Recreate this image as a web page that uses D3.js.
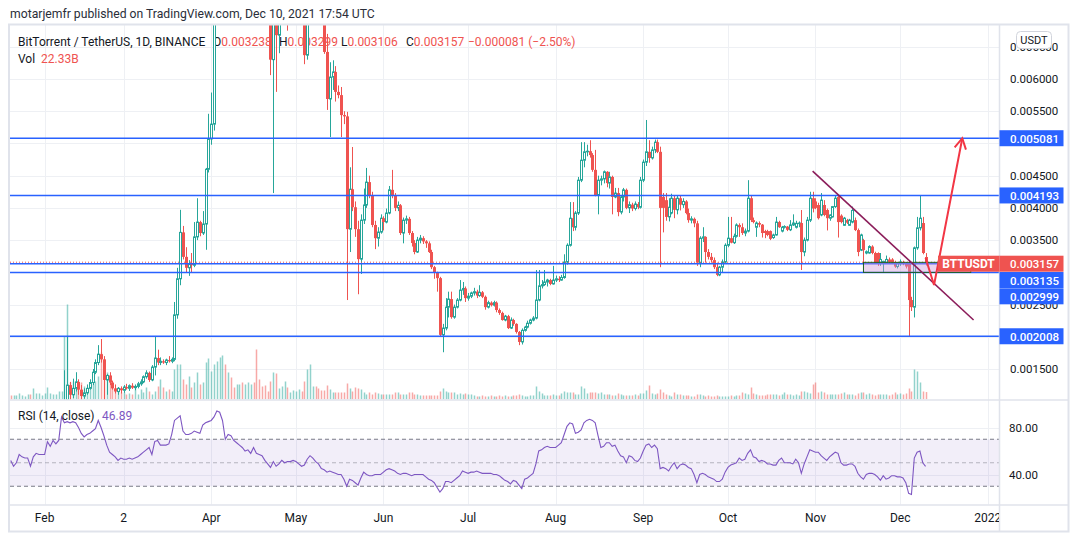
<!DOCTYPE html>
<html><head><meta charset="utf-8">
<script src="https://cdn.jsdelivr.net/npm/d3@7"></script>
<style>
body{margin:0;background:#fff}
svg{display:block}
text{font-family:Roboto,"Noto Sans",sans-serif}
</style></head>
<body><svg id="c" width="1079" height="539"></svg>
<script>
// ---------------- DATA ----------------
const startDate = "2021-01-20"; // first daily candle, one per day
// prices in units of 1e-6 USDT
const opens = [
330,320,335,340,350,360,370,390,380,390,
410,430,460,480,500,540,580,620,680,760,
1000,1250,1100,1200,1300,1180,1080,1130,1200,1290,
1450,1600,1730,1650,1330,1400,1290,1200,1150,1200,
1170,1220,1200,1240,1210,1230,1270,1300,1380,1440,
1330,1530,1670,1600,1620,1600,1640,1620,1650,2340,
2900,3620,3240,3070,3130,3110,3550,3780,3610,3750,
4600,5070,5300,7200,9000,10800,12000,10500,10900,10400,
9800,10100,10200,9900,10100,10300,10600,9400,9100,8600,
8200,7800,7400,6300,7000,6680,6900,7400,7800,7200,
7600,8200,8300,8500,7500,6370,7500,8000,8400,7800,
7600,7000,6420,5690,6030,6110,5800,5750,5440,5420,
3670,4290,4010,3670,3205,3810,4045,4400,4200,3735,
3530,3625,3840,3780,3920,4280,4200,4000,4040,3610,
3810,3830,3610,3455,3315,3500,3530,3480,3450,3315,
3080,2990,2910,2030,2135,2460,2585,2305,2460,2570,
2725,2750,2600,2630,2680,2700,2640,2690,2620,2460,
2530,2490,2530,2415,2370,2260,2320,2135,2260,2200,
2075,1920,2100,2150,2210,2260,2290,2570,2790,2810,
2850,2880,2820,2880,2900,2880,2920,3160,3420,3840,
3700,3920,4430,4740,4870,4880,4820,4590,4200,4430,
4450,4560,4385,4480,4170,4230,3935,4170,4280,4000,
4050,3990,4060,4010,4430,4710,4870,4775,4900,5020,
4870,4170,4120,3860,3920,4150,3970,4150,4050,4100,
3920,3810,3830,3760,3150,3530,3550,3315,3240,3190,
3080,2960,3080,3160,3420,3530,3460,3560,3735,3700,
3610,3640,4150,3810,3700,3765,3740,3640,3640,3640,
3540,3580,3780,3640,3700,3710,3660,3735,3700,3760,
3765,3315,3500,3810,4150,4100,4045,3890,4045,3967,
3840,3860,4020,4170,3880,3730,3810,3730,3780,3810,
3656,3345,3500,3300,3300,3400,3300,3300,3150,3150,
3150,3200,3200,3160,3090,3150,3160,3140,3145,2570,
2460,3380,3690,3765,3238];
const highs = [
350,345,350,360,370,380,400,410,400,420,
440,470,490,520,560,600,650,700,800,1480,
2000,1300,1350,1450,1340,1250,1200,1260,1340,1500,
1650,1870,1965,1700,1420,1450,1320,1260,1220,1230,
1250,1270,1260,1280,1260,1300,1340,1400,1480,1460,
1560,2000,1800,1680,1650,1660,1700,1680,2540,3070,
3970,3720,3390,3190,3300,3780,4150,3800,3950,4620,
5460,5790,7500,9500,11500,13700,12500,11200,11500,10800,
10300,10600,10500,10400,10600,10900,10800,9800,9400,9000,
8600,8200,7600,7300,7200,7100,7600,8000,8200,7800,
8400,8600,8800,8900,7700,7800,8200,8700,8600,8100,
7900,7200,6700,6260,6290,6200,5900,5876,5500,5490,
4630,4945,4100,3800,3900,4300,4620,4500,4250,3800,
3700,3900,3870,3990,4340,4590,4230,4100,4060,3850,
3880,3860,3640,3500,3550,3580,3560,3500,3480,3350,
3100,3010,2930,2200,2600,2700,2700,2500,2600,2880,
2850,2780,2680,2700,2760,2730,2800,2710,2640,2560,
2550,2560,2550,2440,2390,2340,2340,2300,2280,2210,
2090,2130,2170,2250,2280,2320,3036,3036,2880,3036,
2900,2900,3100,2950,2940,2960,3280,3450,4090,4090,
3950,4480,5020,5020,4980,5050,4850,4900,4500,4500,
4580,4570,4560,4500,4310,4310,4200,4310,4300,4100,
4080,4100,4090,4480,4750,5364,5050,4950,5060,5060,
4950,4230,4230,4150,4220,4200,4200,4200,4150,4120,
3990,3870,3850,3800,3560,3700,3560,3360,3300,3230,
3150,3100,3200,3450,3860,3860,3600,3760,3760,3760,
3680,4430,4200,3850,3790,3790,3750,3660,3660,3650,
3600,3860,3800,3720,3730,3720,3810,3900,3800,3790,
3967,3540,3860,4250,4250,4150,4080,4230,4120,3990,
3900,4030,4200,4200,3900,3860,3830,3830,4020,3850,
3680,3600,3520,3340,3420,3420,3320,3310,3300,3180,
3260,3230,3220,3180,3160,3200,3180,3160,3180,2620,
3400,3860,4200,3860,3299];
const lows = [
310,300,320,330,340,350,360,370,360,380,
400,420,450,460,490,520,560,600,650,740,
950,1020,1050,1150,1100,1020,1040,1100,1180,1250,
1420,1560,1600,1000,1100,1250,1180,1120,1100,1120,
1130,1180,1160,1190,1170,1200,1240,1280,1350,1300,
1310,1400,1560,1560,1580,1560,1600,1590,1620,2280,
2800,3200,2990,2945,2990,3080,3500,3560,3580,3350,
4550,4980,5200,7000,8600,10000,9500,9800,10200,9500,
9400,9700,9600,9700,9800,9900,9000,8600,8300,7800,
7400,7100,6060,4230,5800,6400,6850,7200,6750,7000,
7400,7800,8000,7400,6230,6300,7300,7800,7500,7300,
6900,6390,5520,5100,5830,5650,5700,5100,5300,2570,
3315,3950,3550,2660,2975,3750,4000,4150,3700,3360,
3400,3600,3650,3760,3900,4150,3950,3950,3580,3450,
3750,3580,3400,3280,3300,3450,3440,3380,3300,3050,
2900,2700,2000,1760,2100,2300,2280,2280,2440,2550,
2650,2540,2560,2600,2640,2600,2620,2600,2420,2440,
2470,2470,2380,2340,2250,2240,2120,2120,2170,2050,
1870,1880,2080,2130,2190,2240,2270,2550,2750,2790,
2780,2800,2810,2850,2850,2870,2900,3120,3400,3640,
3650,3890,4400,4630,4800,4780,4560,4180,3900,4350,
4380,4320,4300,3900,4150,3870,3900,4100,3980,3920,
3950,3960,3980,3990,4400,4650,4700,4750,4850,4850,
3080,3620,3800,3790,3900,3840,3900,3960,4000,3900,
3770,3760,3700,3100,3080,3470,3150,3200,3150,3050,
2940,2940,2990,3140,3390,3450,3440,3540,3550,3580,
3560,3620,3780,3760,3550,3700,3540,3530,3560,3500,
3520,3570,3690,3620,3680,3640,3640,3720,3680,3700,
3036,3250,3480,3780,3930,3980,3820,3870,3870,3650,
3800,3850,4000,3540,3760,3720,3750,3720,3760,3640,
3250,3330,3110,3280,3290,3280,3130,3100,3100,2990,
3140,3140,3130,3070,3060,3100,3110,3060,2000,2400,
2300,3350,3650,3280,3106];
const closes = [
320,335,340,350,360,370,390,380,390,410,
430,460,480,500,540,580,620,680,760,1000,
1250,1100,1200,1300,1180,1080,1130,1200,1290,1450,
1600,1730,1650,1330,1400,1290,1200,1150,1200,1170,
1220,1200,1240,1210,1230,1270,1300,1380,1440,1330,
1530,1670,1600,1620,1600,1640,1620,1650,2340,2900,
3620,3240,3070,3130,3110,3550,3780,3610,3750,4600,
5070,5300,7200,9000,10800,12000,10500,10900,10400,9800,
10100,10200,9900,10100,10300,10600,9400,9100,8600,8200,
7800,7400,6300,7000,6680,6900,7400,7800,7200,7600,
8200,8300,8500,7500,6370,7500,8000,8400,7800,7600,
7000,6420,5690,6030,6110,5800,5750,5440,5420,3670,
4290,4010,3670,3205,3810,4045,4400,4200,3735,3530,
3625,3840,3780,3920,4280,4200,4000,4040,3610,3810,
3830,3610,3455,3315,3500,3530,3480,3450,3315,3080,
2990,2910,2030,2135,2460,2585,2305,2460,2570,2725,
2750,2600,2630,2680,2700,2640,2690,2620,2460,2530,
2490,2530,2415,2370,2260,2320,2135,2260,2200,2075,
1920,2100,2150,2210,2260,2290,2570,2790,2810,2850,
2880,2820,2880,2900,2880,2920,3160,3420,3840,3700,
3920,4430,4740,4870,4880,4820,4590,4200,4430,4450,
4560,4385,4480,4170,4230,3935,4170,4280,4000,4050,
3990,4060,4010,4430,4710,4870,4775,4900,5020,4870,
4000,4000,3860,4010,4150,3970,4150,4050,4100,3920,
3810,3830,3760,3150,3530,3550,3315,3240,3190,3080,
2960,3080,3160,3420,3530,3460,3560,3735,3700,3610,
3640,4150,3810,3780,3765,3740,3610,3610,3580,3520,
3580,3780,3700,3700,3710,3660,3735,3765,3760,3765,
3315,3500,3810,4150,3990,4000,3840,4120,3890,3840,
3890,4020,4150,3780,3780,3840,3770,3810,3960,3656,
3315,3580,3345,3320,3400,3300,3145,3145,3200,3170,
3200,3160,3150,3090,3150,3160,3140,3090,2570,2460,
3380,3690,3840,3300,3157];
// volume in billions
const volumes = [
12,12,12,18,12,9,15,15,33,18,
18,12,18,36,18,15,15,24,24,189,
285,51,54,45,33,51,39,24,45,45,
54,69,141,105,81,60,45,24,24,21,
21,15,18,15,30,15,30,21,36,24,
15,24,39,60,36,24,30,24,90,105,
105,60,45,69,36,51,81,45,51,111,
123,84,105,114,126,132,105,81,66,36,
45,45,51,45,51,45,51,150,60,39,
42,24,54,81,78,33,39,54,36,21,
27,24,30,24,54,90,105,39,39,33,
27,27,42,30,21,21,21,21,21,48,
33,24,36,33,30,21,15,21,15,21,
18,15,15,15,15,15,21,21,15,15,
15,21,21,15,15,12,12,12,12,12,
12,12,24,33,24,21,21,21,15,18,
15,18,15,15,12,9,9,12,9,9,
12,9,9,12,9,12,9,9,12,12,
15,12,9,9,12,12,39,24,18,12,
12,12,15,12,12,18,24,21,21,21,
15,15,39,33,18,21,21,21,18,21,
15,15,15,12,12,18,15,12,12,12,
12,15,12,18,18,27,42,18,15,18,
30,21,15,12,9,21,15,15,12,12,
12,9,9,15,15,12,9,12,9,9,
12,9,9,9,9,12,9,12,12,21,
18,15,36,18,15,12,12,12,15,15,
15,15,12,15,21,15,15,12,15,12,
24,24,21,18,45,51,21,24,21,15,
15,15,15,15,18,21,15,15,15,12,
18,21,21,15,18,15,12,15,15,15,
15,12,15,21,15,18,15,18,33,24,
90,84,51,24,22.33];
// RSI(14, close)
const rsiValues = [
52,47,50,57,55,54,54,47,55,58,
57,57,57,68,64,69,66,69,89,84,
85,84,85,84,80,75,72,74,75,77,
79,86,80,73,65,59,57,55,52,54,
53,53,54,53,54,55,57,59,61,63,
57,68,69,65,65,65,66,74,86,88,
90,77,74,74,75,77,76,75,82,84,
85,86,89,94,93,86,70,74,73,69,
67,65,63,60,61,58,63,58,57,56,
52,49,46,51,47,49,52,50,51,51,
52,51,49,47,48,53,56,54,51,49,
45,44,42,43,42,41,40,40,36,30,
36,35,33,31,37,42,40,39,39,40,
40,40,42,44,45,44,43,41,40,41,
41,40,39,40,40,40,40,38,36,35,
33,29,25,28,34,34,33,35,37,39,
43,42,41,42,42,43,42,41,41,41,
41,40,40,39,37,35,34,32,35,34,
31,28,36,37,39,41,49,60,61,63,
64,63,63,63,65,67,74,81,84,83,
75,76,78,84,86,87,86,84,73,63,
64,67,67,64,65,60,56,55,50,56,
55,52,51,54,60,65,66,63,65,62,
45,46,45,43,47,50,45,48,49,48,
46,45,40,33,40,41,40,38,37,36,
34,34,36,42,46,48,49,50,54,52,
53,58,61,55,54,51,52,51,49,49,
48,48,52,54,50,50,50,49,53,50,
41,49,55,61,60,59,59,56,54,52,
55,57,59,58,50,48,48,49,49,47,
41,38,36,40,41,41,40,38,35,39,
36,37,39,39,38,38,37,33,24,23,
54,59,60,50,46.89];

const priceTicks = [0.0015,0.002,0.0025,0.003,0.0035,0.004,0.0045,0.005,0.0055,0.006,0.0065];
const levelPrices = [0.005081,0.004193,0.003135,0.002999,0.002008];
const lastPrice = 0.003157;
const monthTicks = ["2021-02-01","2021-03-01","2021-04-01","2021-05-01","2021-06-01","2021-07-01","2021-08-01","2021-09-01","2021-10-01","2021-11-01","2021-12-01","2022-01-01"];
const monthLabels = ["Feb","2","Apr","May","Jun","Jul","Aug","Sep","Oct","Nov","Dec","2022"];
const rsiTicks = [80,40];
const rsiBands = [70,50,30];
const trendDates = ["2021-10-31","2021-12-27"];
const trendPrices = [0.00457,0.00226];
const arrowDates = ["2021-12-10","2021-12-13","2021-12-23"];
const arrowPrices = [0.003222,0.002803,0.005081];
const zoneDates = ["2021-11-18","2021-12-26"];
const zonePrices = [0.003155,0.002999];
const legendValues = {O:"0.003238",H:"0.003299",L:"0.003106",C:"0.003157",chg:"\u22120.000081 (\u22122.50%)",vol:"22.33B",rsi:"46.89"};

// ---------------- LAYOUT ----------------
const UP="#26a69a", DOWN="#ef5350", BLUE="#2962ff", GRID="#eef0f4", BORDER="#e0e3eb", TXT="#131722";
const plotL=10, plotR=999, priceTop=25, priceBot=399.5, rsiTop=400, rsiBot=504.5, axisBot=531.5, frameR=1068.5;
const svg=d3.select("#c");
const parse=d3.utcParse("%Y-%m-%d");
const t0=parse(startDate);
const dates=opens.map((_,i)=>d3.utcDay.offset(t0,i));
const x=d3.scaleUtc().domain([parse("2021-02-01"),parse("2022-01-01")]).range([44.6,987.7]);
const y=d3.scaleLinear().domain([0.0015,0.006]).range([369,79]);
const yr=d3.scaleLinear().domain([40,80]).range([474.5,427.5]);
const yv=d3.scaleLinear().domain([0,1125]).range([priceBot,priceBot-375]);

svg.append("rect").attr("width",1079).attr("height",539).attr("fill","#fff");
const defs=svg.append("defs");
defs.append("clipPath").attr("id","cp").append("rect").attr("x",plotL).attr("y",priceTop).attr("width",plotR-plotL).attr("height",priceBot-priceTop);
defs.append("clipPath").attr("id","cr").append("rect").attr("x",plotL).attr("y",rsiTop).attr("width",plotR-plotL).attr("height",rsiBot-rsiTop);
defs.append("clipPath").attr("id","ct").append("rect").attr("x",plotL).attr("y",rsiBot).attr("width",plotR-plotL).attr("height",axisBot-rsiBot);

// header
svg.append("text").attr("x",10).attr("y",14).attr("dominant-baseline","central").attr("font-size",12.2).attr("fill","#2a2e39")
  .text("motarjemfr published on TradingView.com, Dec 10, 2021 17:54 UTC");

// grid
const grid=svg.append("g");
monthTicks.forEach(m=>{const gx=Math.round(x(parse(m)))+0.5;
  grid.append("line").attr("x1",gx).attr("x2",gx).attr("y1",priceTop).attr("y2",rsiBot).attr("stroke",GRID);});
priceTicks.forEach(p=>{const gy=Math.round(y(p))+0.5; if(gy>priceTop&&gy<priceBot)
  grid.append("line").attr("x1",plotL).attr("x2",plotR).attr("y1",gy).attr("y2",gy).attr("stroke",GRID);});
rsiTicks.forEach(v=>{const gy=Math.round(yr(v))+0.5;
  grid.append("line").attr("x1",plotL).attr("x2",plotR).attr("y1",gy).attr("y2",gy).attr("stroke",GRID);});

// legend (under candles)
const lg=svg.append("g").attr("font-size",12);
lg.append("text").attr("x",18).attr("y",42).attr("dominant-baseline","central").attr("fill",TXT).text("BitTorrent / TetherUS, 1D, BINANCE");
[["O",213],["H",279],["L",341],["C",406]].forEach(([k,px])=>{
  const t=lg.append("text").attr("x",px).attr("y",42).attr("dominant-baseline","central");
  t.append("tspan").attr("fill",TXT).text(k);
  t.append("tspan").attr("fill",DOWN).text(legendValues[k]);
});
lg.append("text").attr("x",468).attr("y",42).attr("dominant-baseline","central").attr("fill",DOWN).text(legendValues.chg);
lg.append("text").attr("x",18).attr("y",58.5).attr("dominant-baseline","central").attr("fill",TXT).text("Vol");
lg.append("text").attr("x",41).attr("y",58.5).attr("dominant-baseline","central").attr("fill",DOWN).text(legendValues.vol);

// volume
const gv=svg.append("g").attr("clip-path","url(#cp)");
gv.selectAll("rect").data(volumes).join("rect")
  .attr("x",(v,i)=>Math.round(x(dates[i]))-0.25).attr("width",1.5)
  .attr("y",v=>yv(v)).attr("height",v=>priceBot-yv(v))
  .attr("fill",(v,i)=>closes[i]>=opens[i]?"rgba(38,166,154,0.5)":"rgba(239,83,80,0.5)");

// candles
const gc=svg.append("g").attr("clip-path","url(#cp)");
dates.forEach((dt,i)=>{
  const cx=Math.round(x(dt));
  const o=y(opens[i]/1e6), c=y(closes[i]/1e6), h=y(highs[i]/1e6), l=y(lows[i]/1e6);
  const up=closes[i]>=opens[i], col=up?UP:DOWN;
  gc.append("line").attr("x1",cx+0.5).attr("x2",cx+0.5).attr("y1",h).attr("y2",l).attr("stroke",col);
  const top=Math.min(o,c), bot=Math.max(o,c);
  if(up){
    gc.append("rect").attr("x",cx-0.5).attr("y",top).attr("width",2).attr("height",Math.max(bot-top,0.6))
      .attr("fill","#fff").attr("stroke",col).attr("stroke-width",1);
  } else {
    gc.append("rect").attr("x",cx-1).attr("y",top).attr("width",3).attr("height",Math.max(bot-top,1)).attr("fill",col);
  }
});

// drawings
const gd=svg.append("g").attr("clip-path","url(#cp)");
levelPrices.forEach(p=>{gd.append("line").attr("x1",plotL).attr("x2",plotR).attr("y1",y(p)).attr("y2",y(p)).attr("stroke",BLUE).attr("stroke-width",1.5);});
gd.append("line").attr("x1",plotL).attr("x2",plotR).attr("y1",y(lastPrice)).attr("y2",y(lastPrice)).attr("stroke",DOWN).attr("stroke-dasharray","1,2");
const zx0=x(parse(zoneDates[0])), zx1=x(parse(zoneDates[1]));
gd.append("rect").attr("x",zx0).attr("y",y(zonePrices[0])).attr("width",zx1-zx0).attr("height",y(zonePrices[1])-y(zonePrices[0]))
  .attr("fill","rgba(206,147,216,0.4)").attr("stroke","#1b5e20").attr("stroke-width",1);
gd.append("line").attr("x1",x(parse(trendDates[0]))).attr("y1",y(trendPrices[0])).attr("x2",x(parse(trendDates[1]))).attr("y2",y(trendPrices[1]))
  .attr("stroke","#8b1d5a").attr("stroke-width",1.6);
const ap=arrowDates.map((d,i)=>[x(parse(d)),y(arrowPrices[i])]);
gd.append("path").attr("d",d3.line()(ap)).attr("fill","none").attr("stroke","#f23645").attr("stroke-width",2);
(function(){const [x1,y1]=ap[ap.length-2],[x2,y2]=ap[ap.length-1];const a=Math.atan2(y2-y1,x2-x1),L=12;
  const w1=[x2-L*Math.cos(a-0.5),y2-L*Math.sin(a-0.5)], w2=[x2-L*Math.cos(a+0.5),y2-L*Math.sin(a+0.5)];
  gd.append("path").attr("d",d3.line()([w1,[x2,y2],w2])).attr("fill","none").attr("stroke","#f23645").attr("stroke-width",2);})();

// RSI pane
const gr=svg.append("g").attr("clip-path","url(#cr)");
gr.append("rect").attr("x",plotL).attr("width",plotR-plotL).attr("y",yr(70)).attr("height",yr(30)-yr(70)).attr("fill","rgba(126,87,194,0.1)");
rsiBands.forEach(v=>{gr.append("line").attr("x1",plotL).attr("x2",plotR).attr("y1",yr(v)).attr("y2",yr(v))
  .attr("stroke",v===50?"rgba(120,123,134,0.5)":"#787b86").attr("stroke-dasharray","4,3");});
gr.append("path").datum(rsiValues).attr("d",d3.line().x((v,i)=>x(dates[i])).y(v=>yr(v))).attr("fill","none").attr("stroke","#7e57c2").attr("stroke-width",1.1);
svg.append("text").attr("x",18).attr("y",416).attr("dominant-baseline","central").attr("font-size",12).attr("fill",TXT).text("RSI (14, close)");
svg.append("text").attr("x",102).attr("y",416).attr("dominant-baseline","central").attr("font-size",12).attr("fill","#7e57c2").text(legendValues.rsi);

// frame & separators
svg.append("line").attr("x1",plotL).attr("x2",frameR).attr("y1",priceBot+0.5).attr("y2",priceBot+0.5).attr("stroke",BORDER).attr("stroke-width",1.5);
svg.append("line").attr("x1",plotL).attr("x2",frameR).attr("y1",rsiBot+0.5).attr("y2",rsiBot+0.5).attr("stroke",BORDER).attr("stroke-width",1.5);
svg.append("line").attr("x1",plotR+0.5).attr("x2",plotR+0.5).attr("y1",priceTop).attr("y2",axisBot).attr("stroke",BORDER).attr("stroke-width",1.5);
svg.append("rect").attr("x",9).attr("y",24.5).attr("width",frameR-9).attr("height",axisBot-24.5).attr("fill","none").attr("stroke",BORDER).attr("stroke-width",2);

// time axis
const gt=svg.append("g").attr("clip-path","url(#ct)");
monthTicks.forEach((m,i)=>{gt.append("text").attr("x",x(parse(m))).attr("y",517.5).attr("text-anchor","middle").attr("dominant-baseline","central")
  .attr("font-size",12).attr("fill",TXT).text(monthLabels[i]);});

// price labels (stacked to avoid overlap)
const labs=levelPrices.map(p=>({p,c:BLUE})).concat([{p:lastPrice,c:DOWN,last:true}]).sort((a,b)=>b.p-a.p);
let prev=-1e9;
labs.forEach(d=>{let cy=y(d.p); if(d.last) cy+=1.5; if(cy<prev+16.3) cy=prev+16.3; prev=cy; d.cy=cy;});

// price axis ticks (those fully covered by a label box are not drawn)
const ga=svg.append("g").attr("font-size",11.5);
priceTicks.forEach(p=>{const ty=y(p); if(labs.some(d=>Math.abs(d.cy-ty)<8)) return;
  ga.append("text").attr("x",1010).attr("y",ty).attr("dominant-baseline","central").attr("fill",TXT).text(p.toFixed(6));});
rsiTicks.forEach(v=>{ga.append("text").attr("x",1009).attr("y",yr(v)).attr("dominant-baseline","central").attr("fill",TXT).text(v.toFixed(2));});
// USDT button
svg.append("rect").attr("x",1016.5).attr("y",31.5).attr("width",35).attr("height",17).attr("rx",4).attr("fill","#fff").attr("stroke","#d1d4dc");
svg.append("text").attr("x",1034).attr("y",40.3).attr("text-anchor","middle").attr("dominant-baseline","central").attr("font-size",11).attr("fill",TXT).text("USDT");

labs.forEach(d=>{
  ga.append("rect").attr("x",999.5).attr("y",d.cy-8).attr("width",64).attr("height",16).attr("fill",d.c);
  ga.append("text").attr("x",1010).attr("y",d.cy+0.5).attr("dominant-baseline","central").attr("fill","#fff").attr("font-weight",500).text(d.p.toFixed(6));
  if(d.last){
    ga.append("rect").attr("x",938).attr("y",d.cy-8).attr("width",61.5).attr("height",16).attr("fill",d.c);
    ga.append("text").attr("x",968.5).attr("y",d.cy+0.5).attr("text-anchor","middle").attr("dominant-baseline","central").attr("fill","#fff").attr("font-weight",700).attr("font-size",12).text("BTTUSDT");
  }
});
</script></body></html>
